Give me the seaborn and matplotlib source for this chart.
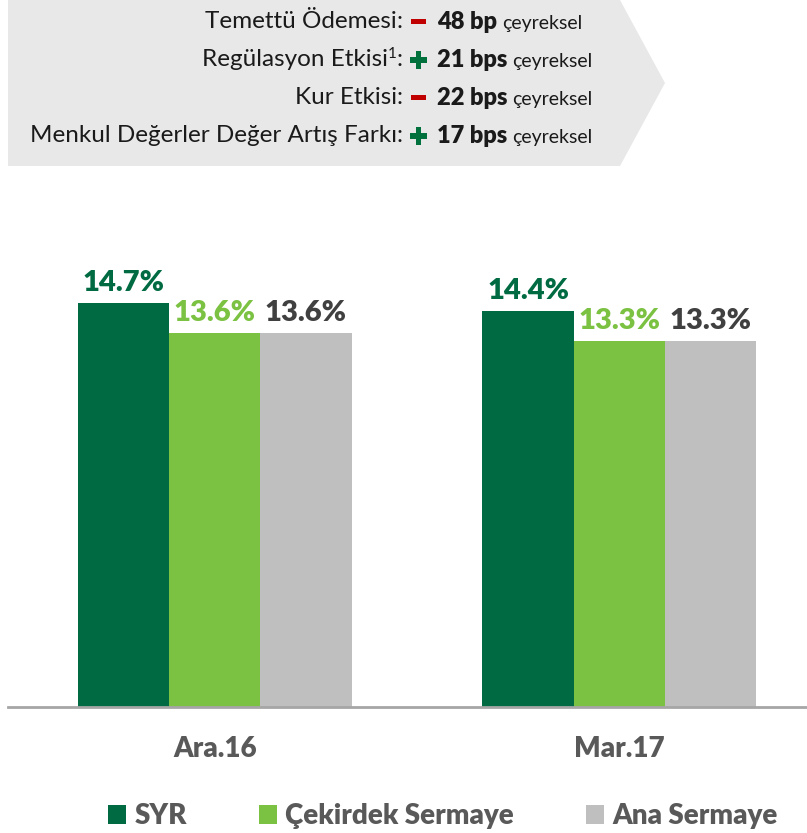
import matplotlib
matplotlib.use("Agg")
import matplotlib.pyplot as plt
import seaborn as sns
import pandas as pd
from matplotlib.patches import Polygon, Rectangle, Patch

# ---------------- data ----------------
periods = ["Ara.16", "Mar.17"]
series = ["SYR", "Çekirdek Sermaye", "Ana Sermaye"]
syr = [14.7, 14.4]
cekirdek = [13.6, 13.3]
ana = [13.6, 13.3]

header_labels = ["Temettü Ödemesi", "Regülasyon Etkisi", "Kur Etkisi",
                 "Menkul Değerler Değer Artış Farkı"]
header_sup = ["", "1", "", ""]
header_signs = ["-", "+", "-", "+"]
header_values = ["48 bp", "21 bps", "22 bps", "17 bps"]
header_suffix = "çeyreksel"

bar_colors = ["#006B42", "#7BC142", "#BFBFBF"]
label_colors = ["#006B42", "#7BC142", "#404040"]
text_grey = "#595959"
BOLD = 800

# ---------------- figure ----------------
W, H = 807, 833
sns.set_theme(style="white")
plt.rcParams["font.family"] = ["Lato", "DejaVu Sans"]
fig = plt.figure(figsize=(W / 100, H / 100), dpi=100)

def fx(px):
    return px / W

def fy(py):
    return 1 - py / H

ax = fig.add_axes([fx(8), fy(707), fx(807) - fx(8), fy(267) - fy(707)])

df = pd.DataFrame({
    "donem": periods * 3,
    "seri": [series[0]] * 2 + [series[1]] * 2 + [series[2]] * 2,
    "deger": syr + cekirdek + ana,
})

sns.barplot(data=df, x="donem", y="deger", hue="seri", order=periods,
            hue_order=series, palette=bar_colors, saturation=1,
            width=0.676, gap=0, ax=ax, legend=False, errorbar=None,
            linewidth=0)

ax.set_ylim(0, 16.0)
ax.set_xlim(-0.512, 1.465)
for c, col in zip(ax.containers, label_colors):
    ax.bar_label(c, fmt="{:.1f}%", padding=5, color=col, fontweight=BOLD,
                 fontsize=21)

for s in ["top", "right", "left"]:
    ax.spines[s].set_visible(False)
ax.spines["bottom"].set_color("#A6A6A6")
ax.spines["bottom"].set_linewidth(2)
ax.set_yticks([])
ax.set_xlabel("")
ax.set_ylabel("")
ax.tick_params(axis="x", length=0, pad=21, labelsize=20, labelcolor=text_grey)
for t in ax.get_xticklabels():
    t.set_fontweight(BOLD)

# legend
handles = [Patch(facecolor=c, edgecolor="none") for c in bar_colors]
fig.legend(handles, series, loc="center", bbox_to_anchor=(fx(443), fy(816)),
           ncol=3, frameon=False, handlelength=0.65, handleheight=0.65,
           handletextpad=0.3, columnspacing=2.6,
           prop={"weight": BOLD, "size": 20}, labelcolor=text_grey)

# ---------------- header box ----------------
poly = Polygon([(fx(8), fy(0)), (fx(620), fy(0)), (fx(665), fy(83)),
                (fx(620), fy(166)), (fx(8), fy(166))], closed=True,
               transform=fig.transFigure, facecolor="#E8E8E8",
               edgecolor="none", zorder=0)
fig.patches.append(poly)

line_y = [22, 60, 98, 136]
fig.canvas.draw()
renderer = fig.canvas.get_renderer()
for lab, sup, sg, val, yy in zip(header_labels, header_sup, header_signs,
                                 header_values, line_y):
    tc = fig.text(fx(403), fy(yy), ":", ha="right", va="center", fontsize=17.5,
                  color="#1a1a1a")
    xr = tc.get_window_extent(renderer=renderer).x0
    if sup:
        ts = fig.text(xr / W, fy(yy - 6), sup, ha="right", va="center",
                      fontsize=11, color="#1a1a1a")
        xr = ts.get_window_extent(renderer=renderer).x0
    fig.text(xr / W, fy(yy), lab, ha="right", va="center", fontsize=17.5,
             color="#1a1a1a")
    if sg == "-":
        fig.patches.append(Rectangle((fx(411), fy(yy + 2)), fx(15), 4.5 / H,
                                     transform=fig.transFigure,
                                     facecolor="#C00000", edgecolor="none"))
    else:
        fig.patches.append(Rectangle((fx(410), fy(yy + 3)), fx(17), 5.5 / H,
                                     transform=fig.transFigure,
                                     facecolor="#00703C", edgecolor="none"))
        fig.patches.append(Rectangle((fx(415.75), fy(yy + 8.5)), fx(5.5), 17 / H,
                                     transform=fig.transFigure,
                                     facecolor="#00703C", edgecolor="none"))
    tv = fig.text(fx(437), fy(yy), val, ha="left", va="center", fontsize=17,
                  fontweight=BOLD, color="#1a1a1a")
    bb = tv.get_window_extent(renderer=renderer)
    fig.text(bb.x1 / W + fx(5), fy(yy + 1), header_suffix, ha="left",
             va="center", fontsize=14, color="#1a1a1a")

fig.savefig("out.png", dpi=100)
